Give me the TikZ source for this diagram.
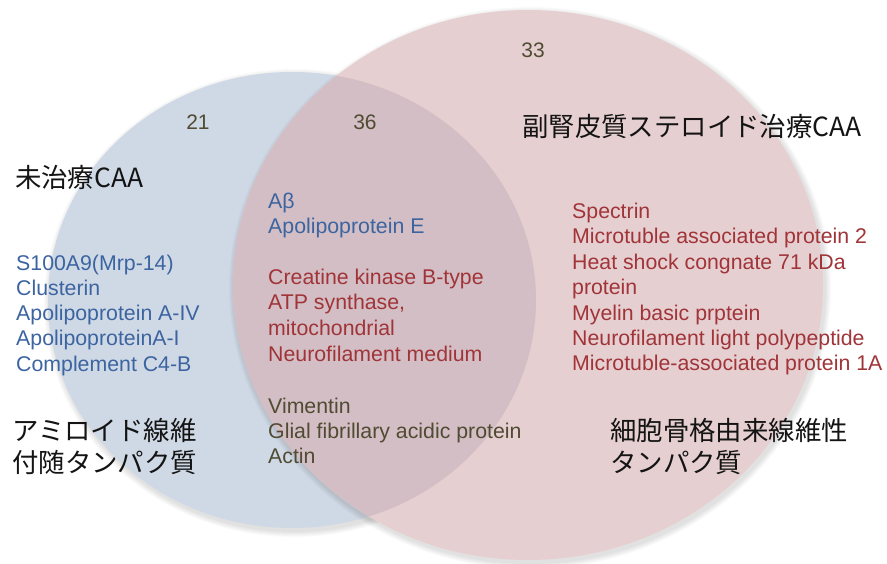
\documentclass[tikz,border=0pt]{standalone}
\usepackage{fontspec}
\setmainfont{Liberation Sans}
\newfontfamily\jp{Noto Sans CJK JP}
\definecolor{blueFill}{RGB}{207,217,229}
\definecolor{redFill}{RGB}{230,207,209}
\definecolor{overFill}{RGB}{210,190,196}
\definecolor{blueTxt}{RGB}{60,100,160}
\definecolor{redTxt}{RGB}{160,52,56}
\definecolor{oliveTxt}{RGB}{80,75,50}
\definecolor{jpTxt}{RGB}{20,20,20}
\tikzset{
  lat/.style={anchor=base west, inner sep=0pt, font=\fontsize{21.3}{25}\selectfont},
  jplab/.style={anchor=base west, inner sep=0pt, text=jpTxt, font=\jp\fontsize{26.4}{30}\selectfont},
  num/.style={anchor=base, inner sep=0pt, text=oliveTxt, font=\fontsize{21}{24}\selectfont},
  bl/.style={lat, text=blueTxt},
  rd/.style={lat, text=redTxt},
  ol/.style={lat, text=oliveTxt},
}
\begin{document}
\begin{tikzpicture}[x=1pt,y=-1pt]
\useasboundingbox (0,0) rectangle (887,564);
\fill[white] (0,0) rectangle (887,564);
% blue set with soft shadow
\foreach \k in {1,...,6}{
  \fill[black, opacity=0.018] (294,303) ellipse ({244+\k} and {228+\k});
}
\fill[blueFill] (292,300) ellipse (244 and 228);
% red set with soft shadow
\foreach \k in {1,...,6}{
  \fill[black, opacity=0.018] (530,288) ellipse ({295+\k} and {275+\k});
}
\fill[redFill] (528,285) ellipse (295 and 275);
% overlap
\begin{scope}
  \clip (292,300) ellipse (244 and 228);
  \fill[overFill] (528,285) ellipse (295 and 275);
\end{scope}

% numbers
\node[num] (n33) at (533,57.5) {33};
\node[num] (n21) at (198,129.5) {21};
\node[num] (n36) at (365,129.5) {36};

% japanese labels
\node[jplab] (t1) at (522,137) {副腎皮質ステロイド治療CAA};
\node[jplab] (t2) at (15,188) {未治療CAA};
\node[jplab] (t3a) at (12,440) {アミロイド線維};
\node[jplab] (t3b) at (12,472) {付随タンパク質};
\node[jplab] (t4a) at (610,440) {細胞骨格由来線維性};
\node[jplab] (t4b) at (610,472) {タンパク質};

% left list
\node[bl] (l1) at (16,270.5) {S100A9(Mrp-14)};
\node[bl] (l2) at (16,295.5) {Clusterin};
\node[bl] (l3) at (16,320.5) {Apolipoprotein A-IV};
\node[bl] (l4) at (16,345.5) {ApolipoproteinA-I};
\node[bl] (l5) at (16,371) {Complement C4-B};

% center list
\node[bl] (c1) at (268,208.5) {Aβ};
\node[bl] (c2) at (268,233.5) {Apolipoprotein E};
\node[rd] (c3) at (268,284.5) {Creatine kinase B-type};
\node[rd] (c4) at (268,310) {ATP synthase,};
\node[rd] (c5) at (268,335.5) {mitochondrial};
\node[rd] (c6) at (268,361) {Neurofilament medium};
\node[ol] (c7) at (268,413) {Vimentin};
\node[ol] (c8) at (268,438.5) {Glial fibrillary acidic protein};
\node[ol] (c9) at (268,463.5) {Actin};

% right list
\node[rd] (r1) at (572,218.5) {Spectrin};
\node[rd] (r2) at (572,244) {Microtuble associated protein 2};
\node[rd] (r3) at (572,269.5) {Heat shock congnate 71 kDa};
\node[rd] (r4) at (572,295) {protein};
\node[rd] (r5) at (572,320.5) {Myelin basic prptein};
\node[rd] (r6) at (572,345.5) {Neurofilament light polypeptide};
\node[rd] (r7) at (572,370.5) {Microtuble-associated protein 1A};
\end{tikzpicture}
\end{document}
